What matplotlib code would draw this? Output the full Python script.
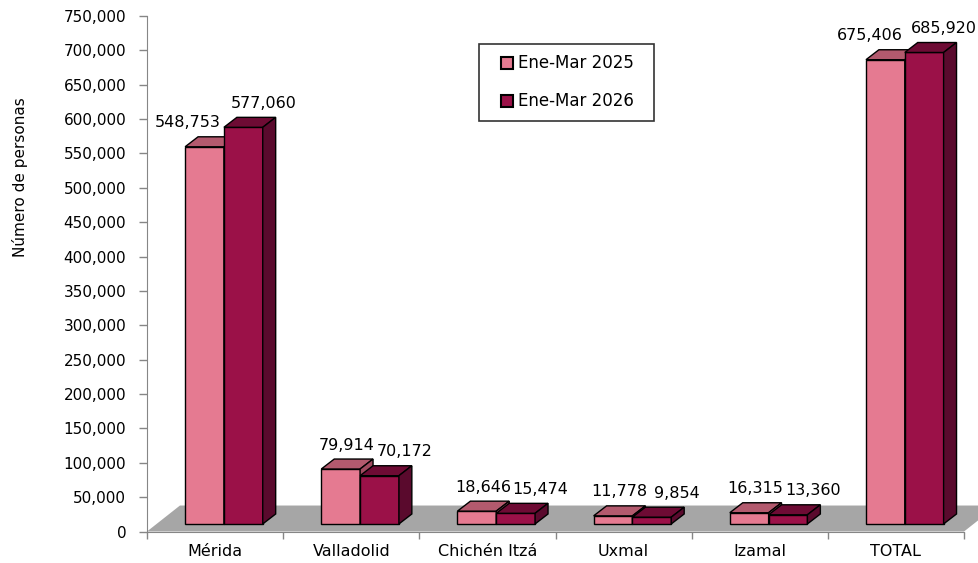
import numpy as np
import matplotlib
matplotlib.use('Agg')
import matplotlib.pyplot as plt
from matplotlib.patches import Polygon
from matplotlib.lines import Line2D
from matplotlib.ticker import FuncFormatter

# Data
categories = ['Mérida', 'Valladolid', 'Chichén Itzá', 'Uxmal', 'Izamal', 'TOTAL']
ene_mar_2025 = [548753, 79914, 18646, 11778, 16315, 675406]
ene_mar_2026 = [577060, 70172, 15474, 9854, 13360, 685920]
series_names = ['Ene-Mar 2025', 'Ene-Mar 2026']

# Colours (front, top, side)
pink = ('#E57A91', '#B35A6E', '#A04B60')
wine = ('#9B1148', '#6E0B34', '#5A0A2D')
floor_color = '#A6A6A6'
axis_color = '#868686'

# fake 3D geometry (data units)
BASE = 11000      # value where bar fronts meet the floor
DX, DY = 0.095, 14500   # depth offset of bar tops
FDX, FDY = 0.242, 37800 # depth of the floor
BAR_W = 0.285
X0 = 0.28

plt.rcParams['font.family'] = ['DejaVu Sans']

fig = plt.figure(figsize=(9.79, 5.63), dpi=100)
ax = fig.add_axes([147 / 979, 31.5 / 563, 832 / 979, 515.5 / 563])
ax.set_xlim(0, 832 / 136.17)
ax.set_ylim(0, 750000)

# floor
floor = Polygon([(0, 0), (6, 0), (6 + FDX, FDY), (FDX, FDY)],
                closed=True, facecolor=floor_color, edgecolor='none', zorder=1)
ax.add_patch(floor)


def bar3d(x, h, colors):
    b = BASE
    t = BASE + h
    w = BAR_W
    front, top, side = colors
    kw = dict(closed=True, edgecolor='black', linewidth=1.0, joinstyle='miter', zorder=3)
    ax.add_patch(Polygon([(x, b), (x + w, b), (x + w, t), (x, t)], facecolor=front, **kw))
    ax.add_patch(Polygon([(x, t), (x + w, t), (x + w + DX, t + DY), (x + DX, t + DY)],
                         facecolor=top, **kw))
    ax.add_patch(Polygon([(x + w, b), (x + w + DX, b + DY), (x + w + DX, t + DY), (x + w, t)],
                         facecolor=side, **kw))
    return x + w / 2, t + DY


# label nudges in pixels (pink, wine)
nudge = {'Mérida': (-17, 20), 'TOTAL': (-16, 20)}

for i, cat in enumerate(categories):
    dx1, dx2 = nudge.get(cat, (6, 25))
    cx, ty = bar3d(i + X0, ene_mar_2025[i], pink)
    ax.annotate(f'{ene_mar_2025[i]:,}', xy=(cx, ty), xytext=(dx1, 14),
                textcoords='offset pixels', ha='center', va='center',
                fontsize=11.5, annotation_clip=False, zorder=5)
    cx, ty = bar3d(i + X0 + BAR_W, ene_mar_2026[i], wine)
    ax.annotate(f'{ene_mar_2026[i]:,}', xy=(cx, ty), xytext=(dx2, 14),
                textcoords='offset pixels', ha='center', va='center',
                fontsize=11.5, annotation_clip=False, zorder=5)

# axes styling
for s in ['top', 'right']:
    ax.spines[s].set_visible(False)
ax.spines['left'].set_color(axis_color)
ax.spines['bottom'].set_color(axis_color)
ax.spines['bottom'].set_bounds(0, 6)

ax.set_yticks(np.arange(0, 750001, 50000))
ax.yaxis.set_major_formatter(FuncFormatter(lambda v, p: f'{int(v):,}'))
ax.tick_params(axis='y', direction='out', length=6, width=1, color=axis_color,
               pad=9, labelsize=11, labelcolor='black')

ax.set_xticks(np.arange(0, 7))
ax.set_xticklabels([])
ax.set_xticks(np.arange(len(categories)) + 0.5, minor=True)
ax.set_xticklabels(categories, minor=True)
ax.tick_params(axis='x', which='major', direction='out', length=5, width=1, color=axis_color)
ax.tick_params(axis='x', which='minor', length=0, pad=9, labelsize=11.5, labelcolor='black')

fig.text(20 / 979, 1 - 177 / 563, 'Número de personas', rotation=90,
         ha='center', va='center', fontsize=11)

# legend
handles = [Line2D([], [], linestyle='none', marker='s', markersize=8,
                  markerfacecolor=c[0], markeredgecolor='black', markeredgewidth=1.5)
           for c in (pink, wine)]
leg = ax.legend(handles, series_names, loc='center',
                bbox_to_anchor=((479 - 147) / 832, (531.5 - 122) / 515.5,
                                175 / 832, 79 / 515.5),
                mode='expand', fontsize=12, frameon=True, fancybox=False,
                borderpad=0.65, labelspacing=1.2, handlelength=2.0,
                handletextpad=-0.3, borderaxespad=0)
leg.get_frame().set_edgecolor('black')
leg.get_frame().set_linewidth(1.2)

fig.savefig('out.png', dpi=100)
